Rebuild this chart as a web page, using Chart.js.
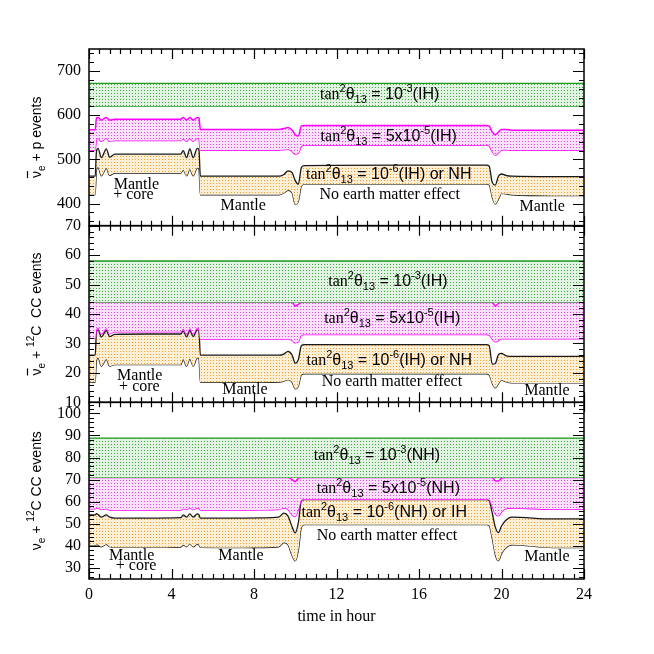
<!DOCTYPE html>
<html>
<head>
<meta charset="utf-8">
<script src="https://cdn.jsdelivr.net/npm/chart.js@4.4.1/dist/chart.umd.min.js"></script>
<style>
  html, body { margin: 0; padding: 0; background: #fff; }
</style>
</head>
<body>
<canvas id="chart" width="654" height="654"></canvas>
<script>
// time grid (hours) shared by the curves
const hours = [0, 0.3, 0.36, 0.44, 0.6, 0.84, 1.0, 1.25, 2.85, 4.45, 4.57, 4.73, 4.89, 5.05, 5.25, 5.33, 5.4, 7.5,
  9.2, 9.45, 9.65, 9.85, 10.0, 10.15, 10.3, 10.45, 14.8, 19.25, 19.4, 19.55, 19.7, 19.85, 20.0, 20.2, 20.5, 22.5, 24]
const greenHours = [0, 24]

// anti-nu_e + p
const pbarGreenUp = [672, 672]
const pbarGreenLow = [621, 621]
const pbarMagUp = [567, 567, 593, 595, 589, 595, 589, 591, 591, 591, 595, 589, 595, 589, 595, 594, 568, 568,
  568, 570, 572, 566, 556, 553, 576, 577, 577, 577, 576, 562, 556, 562, 568, 568, 566, 566, 566]
const pbarMagLow = [521, 521, 545, 548, 541, 548, 541, 543, 543, 543, 547, 541, 548, 541, 548, 547, 521, 521,
  521, 522, 523, 518, 512, 514, 530, 532, 532, 532, 531, 518, 510, 515, 521, 522, 521, 521, 521]
const pbarBlkUp = [462, 462, 518, 525, 504, 524, 505, 512, 512, 512, 520, 504, 524, 504, 525, 522, 462, 462,
  462, 466, 474, 470, 452, 444, 482, 486, 487, 487, 485, 448, 442, 462, 467, 464, 462, 461, 461]
const pbarBlkLow = [420, 420, 476, 482, 463, 480, 464, 469, 469, 469, 476, 463, 478, 463, 481, 479, 420, 420,
  420, 424, 430, 424, 398, 405, 440, 444, 444, 444, 443, 415, 399, 410, 423, 422, 420, 418, 418]

// anti-nu_e + 12C CC
const cbarGreenUp = [58, 58]
const cbarGreenLow = [44, 44]
const cbarMagUp = [44, 44, 44, 44, 44, 44, 44, 44, 44, 44, 44, 44, 44, 44, 44, 44, 44, 44,
  44, 44, 44, 44, 42.7, 43.3, 44, 44, 44, 44, 44, 44, 42.7, 43.6, 44, 44, 44, 44, 44]
const cbarMagLow = [31.8, 31.8, 34.8, 35.3, 33.2, 35.2, 33.3, 34.0, 34.0, 34.0, 35.0, 33.2, 35.2, 33.3, 35.3, 35.0, 31.5, 31.5,
  31.5, 31.5, 31.6, 31.0, 30.2, 30.6, 32.8, 33.0, 33.0, 33.0, 32.9, 31.5, 30.6, 31.0, 31.6, 31.6, 31.6, 31.6, 31.6]
const cbarBlkUp = [26.0, 26.0, 33.8, 34.6, 32.2, 34.4, 32.3, 33.1, 33.2, 33.2, 34.3, 32.2, 34.4, 32.3, 34.6, 34.2, 26.0, 26.0,
  26.0, 26.4, 27.3, 26.0, 23.3, 24.5, 29.3, 29.6, 29.6, 29.6, 29.3, 23.0, 23.2, 26.2, 26.6, 25.9, 25.6, 25.6, 25.6]
const cbarBlkLow = [16.8, 16.8, 24.2, 25.1, 22.3, 24.6, 22.3, 22.8, 22.8, 22.8, 24.6, 22.3, 24.8, 22.3, 25.1, 24.8, 16.8, 16.8,
  16.9, 17.2, 17.7, 16.8, 14.6, 15.5, 19.4, 19.7, 19.7, 19.7, 19.4, 16.5, 14.9, 16.3, 17.6, 17.0, 16.6, 16.6, 16.6]

// nu_e + 12C CC
const cnuGreenUp = [88.8, 88.8]
const cnuGreenLow = [71, 71]
const cnuMagUp = [71, 71, 71, 71, 71, 71, 71, 71, 71, 71, 71, 71, 71, 71, 71, 71, 71, 71,
  71, 71, 71, 70.0, 69.2, 70.6, 71, 71, 71, 71, 71, 71, 69.5, 69.4, 70.7, 71, 71, 71, 71]
const cnuMagLow = [56.8, 56.8, 57.0, 57.0, 56.5, 56.8, 56.3, 56.3, 56.3, 56.3, 56.8, 56.5, 57.3, 56.5, 57.2, 57.0, 56.3, 56.3,
  56.5, 57.2, 56.5, 54.0, 53.4, 56.5, 60.8, 61.1, 61.1, 61.1, 61.0, 58.0, 54.5, 53.6, 55.3, 56.8, 57.1, 56.6, 56.6]
const cnuBlkUp = [54.0, 54.0, 54.6, 54.2, 53.0, 54.0, 53.0, 52.6, 52.6, 52.8, 54.0, 53.0, 54.5, 53.0, 54.5, 54.0, 52.6, 52.6,
  53.0, 54.8, 53.5, 48.5, 45.9, 50.5, 60.5, 60.9, 60.9, 60.9, 60.5, 55.0, 48.5, 46.0, 49.0, 51.5, 53.0, 52.2, 52.2]
const cnuBlkLow = [40.3, 40.3, 40.6, 40.5, 39.6, 40.7, 39.6, 39.3, 39.3, 39.5, 40.5, 39.6, 41.0, 39.6, 40.8, 40.5, 39.3, 39.2,
  39.6, 41.5, 40.5, 35.5, 33.2, 38.0, 48.5, 49.6, 49.6, 49.6, 49.2, 43.5, 36.0, 33.3, 36.5, 39.0, 40.5, 39.2, 39.2]

// tick labels
const xTicks = [0, 4, 8, 12, 16, 20, 24]
const pbarTicks = [400, 500, 600, 700]
const cbarTicks = [10, 20, 30, 40, 50, 60, 70]
const cnuTicks = [30, 40, 50, 60, 70, 80, 90, 100]

const SERIF = '"Liberation Serif", "DejaVu Serif", serif'
const SANS = '"Liberation Sans", Arial, sans-serif'
Chart.defaults.font.family = SERIF
Chart.defaults.font.size = 16
Chart.defaults.color = '#000'

const canvas = document.getElementById('chart')
const ctx = canvas.getContext('2d')

function dots(bg, dot) {
    const c = document.createElement('canvas')
    c.width = 3; c.height = 3
    const g = c.getContext('2d')
    g.fillStyle = bg
    g.fillRect(0, 0, 3, 3)
    g.fillStyle = dot
    g.fillRect(0, 0, 1, 1)
    return ctx.createPattern(c, 'repeat')
}
const greenFill = dots('#e3f3e3', '#3fae3f')
const magFill = dots('#fbe0fb', '#e64ae6')
const orangeFill = dots('#fdeed6', '#f2a22a')

function band(xs, ys, axis, color, width, fill, bg) {
    return {
        data: xs.map((h, i) => ({ x: h, y: ys[i] })),
        yAxisID: axis,
        borderColor: color,
        borderWidth: width,
        pointRadius: 0,
        cubicInterpolationMode: 'monotone',
        fill: fill,
        backgroundColor: bg || 'transparent'
    }
}

const GREEN = '#1f9a1f', MAG = '#ff00ff', BLK = '#1a1a1a'
function panel(axis, gU, gL, mU, mL, bU, bL) {
    return [
        band(greenHours, gU, axis, GREEN, 1.3, '+1', greenFill),
        band(greenHours, gL, axis, GREEN, 1.3, false),
        band(hours, mU, axis, MAG, 1.5, '+1', magFill),
        band(hours, mL, axis, MAG, 1.5, false),
        band(hours, bU, axis, BLK, 1.3, '+1', orangeFill),
        band(hours, bL, axis, BLK, 1.3, false)
    ]
}

const datasets = [].concat(
    panel('yTop', pbarGreenUp, pbarGreenLow, pbarMagUp, pbarMagLow, pbarBlkUp, pbarBlkLow),
    panel('yMid', cbarGreenUp, cbarGreenLow, cbarMagUp, cbarMagLow, cbarBlkUp, cbarBlkLow),
    panel('yBot', cnuGreenUp, cnuGreenLow, cnuMagUp, cnuMagLow, cnuBlkUp, cnuBlkLow)
)

function yAxis(min, max, ticks) {
    return {
        type: 'linear', position: 'left', stack: 'panels', stackWeight: 1,
        min: min, max: max,
        afterBuildTicks: s => { s.ticks = ticks.map(v => ({ value: v })) },
        afterFit: s => { s.width = 89 },
        grid: { display: false, drawTicks: false },
        border: { display: false },
        ticks: { color: '#000', padding: 8, autoSkip: false, font: { family: SERIF, size: 16 } }
    }
}

// labels inside the panels
const tanNotes = [
    ['yTop', 11.2, 637, '', '-3', '(IH)'],
    ['yTop', 11.23, 542, '5x', '-5', '(IH)'],
    ['yTop', 10.52, 455, '', '-6', '(IH) or NH'],
    ['yMid', 11.6, 49.4, '', '-3', '(IH)'],
    ['yMid', 11.4, 37.0, '5x', '-5', '(IH)'],
    ['yMid', 10.55, 22.6, '', '-6', '(IH) or NH'],
    ['yBot', 10.9, 78.7, '', '-3', '(NH)'],
    ['yBot', 11.04, 64.1, '5x', '-5', '(NH)'],
    ['yBot', 10.3, 53.0, '', '-6', '(NH) or IH']
]
const plainNotes = [
    ['yTop', 11.17, 411, 'No earth matter effect'],
    ['yTop', 20.87, 383, 'Mantle'],
    ['yTop', 6.38, 385, 'Mantle'],
    ['yTop', 1.2, 432, 'Mantle'],
    ['yTop', 1.17, 410, '+ core'],
    ['yMid', 11.28, 15.4, 'No earth matter effect'],
    ['yMid', 21.1, 12.6, 'Mantle'],
    ['yMid', 6.46, 13.0, 'Mantle'],
    ['yMid', 1.36, 17.7, 'Mantle'],
    ['yMid', 1.46, 13.7, '+ core'],
    ['yBot', 11.04, 42.6, 'No earth matter effect'],
    ['yBot', 21.1, 33.2, 'Mantle'],
    ['yBot', 6.27, 33.5, 'Mantle'],
    ['yBot', 0.97, 33.5, 'Mantle'],
    ['yBot', 1.3, 29.0, '+ core']
]
// rotated axis titles: axis, bar over nu, has 12C, tail
const axisTitles = [
    ['yTop', true, false, 'p events'],
    ['yMid', true, true, '  CC events'],
    ['yBot', false, true, ' CC events']
]

function rich(c, parts, x, y) {
    let cx = x
    parts.forEach(p => {
        c.font = p.f
        c.fillText(p.t, cx, y + (p.dy || 0))
        cx += c.measureText(p.t).width
    })
    return cx - x
}

const decor = {
    id: 'decor',
    afterDraw(chart) {
        const c = chart.ctx
        const xs = chart.scales.x
        const L = chart.chartArea.left, R = chart.chartArea.right
        c.save()
        c.strokeStyle = '#000'
        c.fillStyle = '#000'
        const minorStep = { yTop: 20, yMid: 2, yBot: 2 }
        const majorStep = { yTop: 100, yMid: 10, yBot: 10 }
        ;['yTop', 'yMid', 'yBot'].forEach(id => {
            const s = chart.scales[id]
            const T = s.top, B = s.bottom
            c.lineWidth = 1.5
            c.strokeRect(L, T, R - L, B - T)
            c.lineWidth = 1.2
            c.beginPath()
            const st = minorStep[id]
            for (let v = Math.ceil(s.min / st) * st; v <= s.max + 1e-9; v += st) {
                const py = Math.round(s.getPixelForValue(v)) + 0.5
                const len = Math.abs(v / majorStep[id] - Math.round(v / majorStep[id])) < 1e-6 ? 11 : 5
                c.moveTo(L, py); c.lineTo(L + len, py)
                c.moveTo(R, py); c.lineTo(R - len, py)
            }
            for (let h = 0; h <= 24 + 1e-9; h += 0.5) {
                const px = Math.round(xs.getPixelForValue(h)) + 0.5
                const len = h % 4 === 0 ? 10 : 5
                c.moveTo(px, B); c.lineTo(px, B - len)
                c.moveTo(px, T); c.lineTo(px, T + len)
            }
            c.stroke()
        })

        c.textBaseline = 'alphabetic'
        c.textAlign = 'left'
        const big = '16px ' + SANS, small = '11px ' + SANS
        tanNotes.forEach(n => {
            const s = chart.scales[n[0]]
            const x = xs.getPixelForValue(n[1]), y = s.getPixelForValue(n[2])
            rich(c, [
                { t: 'tan', f: '16px ' + SERIF },
                { t: '2', f: small, dy: -7 },
                { t: 'θ', f: big },
                { t: '13', f: small, dy: 4 },
                { t: ' = ' + n[3] + '10', f: big },
                { t: n[4], f: small, dy: -7 },
                { t: n[5], f: big }
            ], x, y)
        })
        c.font = '16px ' + SERIF
        plainNotes.forEach(n => {
            const s = chart.scales[n[0]]
            c.fillText(n[3], xs.getPixelForValue(n[1]), s.getPixelForValue(n[2]))
        })

        axisTitles.forEach(t => {
            const s = chart.scales[t[0]]
            const parts = [
                { t: 'ν', f: '14px ' + SANS },
                { t: 'e', f: '10px ' + SANS, dy: 4 },
                { t: ' + ', f: '14px ' + SANS }
            ]
            if (t[2]) {
                parts.push({ t: '12', f: '10px ' + SANS, dy: -7 })
                parts.push({ t: 'C', f: '14px ' + SANS })
            }
            parts.push({ t: t[3], f: '14px ' + SANS })
            c.save()
            c.translate(41, (s.top + s.bottom) / 2)
            c.rotate(-Math.PI / 2)
            let w = 0
            parts.forEach(p => { c.font = p.f; w += c.measureText(p.t).width })
            rich(c, parts, -w / 2, 0)
            if (t[1]) {
                c.font = '14px ' + SANS
                const nw = c.measureText('ν').width
                c.lineWidth = 1.2
                c.beginPath()
                c.moveTo(-w / 2, -13.5); c.lineTo(-w / 2 + nw, -13.5)
                c.stroke()
            }
            c.restore()
        })
        c.restore()
    }
}

new Chart(ctx, {
    type: 'line',
    data: { datasets: datasets },
    options: {
        responsive: false,
        animation: false,
        devicePixelRatio: 1,
        layout: { padding: { left: 0, top: 49, right: 70, bottom: 24 } },
        plugins: { legend: { display: false }, tooltip: { enabled: false } },
        scales: {
            x: {
                type: 'linear', min: 0, max: 24,
                afterBuildTicks: s => { s.ticks = xTicks.map(v => ({ value: v })) },
                afterFit: s => { s.height = 51 },
                grid: { display: false, drawTicks: false },
                border: { display: false },
                ticks: { color: '#000', padding: 6, maxRotation: 0, autoSkip: false, font: { family: SERIF, size: 16 } },
                title: { display: true, text: 'time in hour', color: '#000', padding: { top: 4, bottom: 4 }, font: { family: SERIF, size: 16 } }
            },
            yBot: yAxis(25, 105, cnuTicks),
            yMid: yAxis(10, 70, cbarTicks),
            yTop: yAxis(350, 750, pbarTicks)
        }
    },
    plugins: [decor]
})
</script>
</body>
</html>
